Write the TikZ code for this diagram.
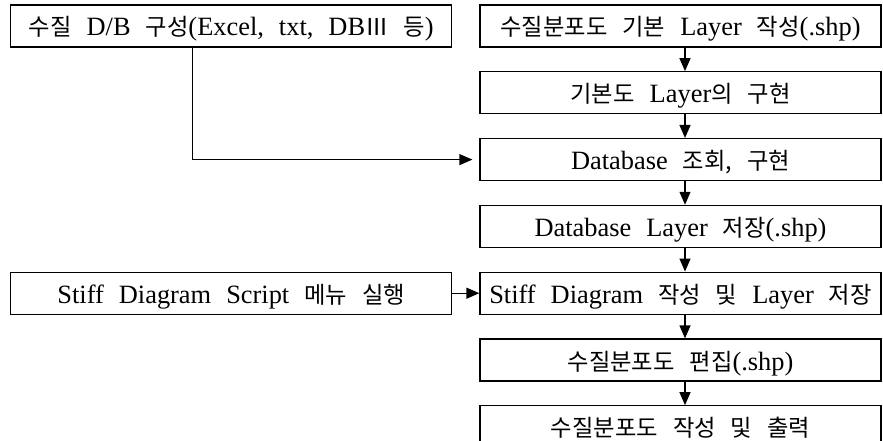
\documentclass[tikz,border=0pt]{standalone}
\usepackage{fontspec}
\setmainfont[Scale=1.1]{Liberation Serif}
\newfontfamily\krfont[Scale=0.97]{Noto Sans CJK KR}
\newcommand{\kr}[1]{{\krfont #1}}
\usetikzlibrary{arrows.meta,positioning}

\begin{document}
\begin{tikzpicture}[x=1pt,y=-1pt]
		\tikzstyle {flow box} = [draw, line width=1.3pt, inner sep=0pt, minimum height=42pt, text height=21pt, text depth=1pt, font={\fontsize{24}{28}\selectfont\spaceskip=15pt\relax}]
		\tikzstyle {main box} = [flow box, minimum width=401pt]
		\tikzstyle {side box} = [flow box, minimum width=441pt]
		\tikzstyle {flow arrow} = [line width=1.3pt, -{Triangle[length=13pt,width=11pt]}]

		\useasboundingbox (0,0) rectangle (883,441);

		% main column
		\node[main box] (base) at (680.5,26) {\kr{수질분포도 기본} Layer \kr{작성}(.shp)};
		\node[main box, below=23.5pt of base] (layer) {\kr{기본도} Layer\kr{의 구현}};
		\node[main box, below=23.5pt of layer] (query) {Database \kr{조회, 구현}};
		\node[main box, below=23.5pt of query] (save) {Database Layer \kr{저장}(.shp)};
		\node[main box, below=23.5pt of save] (stiff) {Stiff Diagram \kr{작성 및} Layer \kr{저장}};
		\node[main box, below=23.5pt of stiff] (edit) {\kr{수질분포도 편집}(.shp)};
		\node[main box, below=23.5pt of edit] (output) {\kr{수질분포도 작성 및 출력}};

		% side inputs
		\node[side box, left=27pt of base] (db) {\kr{수질} D/B \kr{구성}(Excel, txt, DB\kr{Ⅲ} \kr{등})};
		\node[side box, left=27pt of stiff] (script) {Stiff Diagram Script \kr{메뉴 실행}};

		\foreach \a/\b in {base/layer, layer/query, query/save, save/stiff, stiff/edit, edit/output}
			\draw[flow arrow] ([xshift=4.5pt]\a.south) -- ([xshift=4.5pt]\b.north);

		\draw[flow arrow] ([xshift=-38.5pt]db.south) |- ([xshift=-7pt]query.west);
		\draw[flow arrow] (script) -- (stiff);

\end{tikzpicture}
\end{document}
